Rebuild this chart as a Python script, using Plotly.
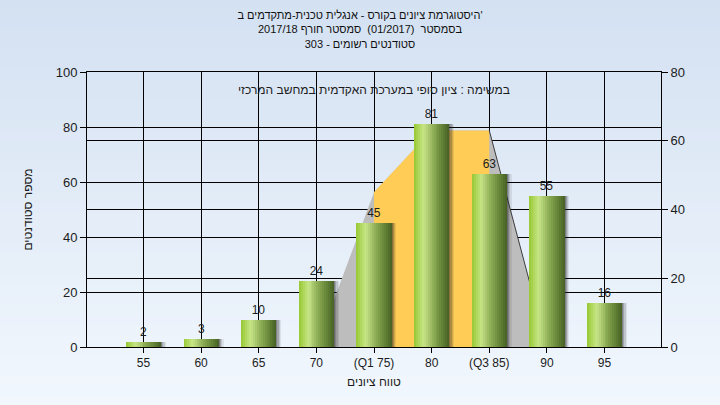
import plotly.graph_objects as go

# ---------------- data ----------------
categories = ["55", "60", "65", "70", "(Q1 75)", "80", "(Q3 85)", "90", "95"]
counts = [2, 3, 10, 24, 45, 81, 63, 55, 16]

# range (secondary axis) area series
range_cats = ["70", "(Q1 75)", "80", "(Q3 85)", "90"]
range_vals = [0, 45, 63, 63, 0]
q1_cat = "(Q1 75)"
q3_cat = "(Q3 85)"

title_lines = [
    "היסטוגרמת ציונים בקורס - אנגלית טכנית-מתקדמים ב'",
    "בסמסטר  (01/2017)  סמסטר חורף 2017/18",
    "סטודנטים רשומים - 303",
]
note_text = "במשימה : ציון סופי במערכת האקדמית במחשב המרכזי"
x_title = "טווח ציונים"
y_title = "מספר סטודנטים"

FONT = "Liberation Sans, Arial, DejaVu Sans, sans-serif"
TXT = "#1c1c1c"

# ---------------- layout geometry ----------------
W, H = 720, 405
ML, MR, MT, MB = 87, 59, 72, 58
PW, PH = W - ML - MR, H - MT - MB

idx = {c: i for i, c in enumerate(categories)}
xs = list(range(len(categories)))
ax = [idx[c] for c in range_cats]
i1, i3 = range_cats.index(q1_cat), range_cats.index(q3_cat)

fig = go.Figure()

# area series on the right-hand (0-80) axis, drawn under the bars
fig.add_trace(go.Scatter(x=ax, y=range_vals, yaxis="y", mode="lines",
                         fill="tozeroy", fillcolor="#BDBDBD",
                         line=dict(width=0, color="#BDBDBD"), hoverinfo="skip"))
fig.add_trace(go.Scatter(x=ax[i1:i3 + 1], y=range_vals[i1:i3 + 1], yaxis="y", mode="lines",
                         fill="tozeroy", fillcolor="#FFCC55",
                         line=dict(width=0, color="#FFCC55"), hoverinfo="skip"))
fig.add_trace(go.Scatter(x=ax[i3:], y=range_vals[i3:], yaxis="y", mode="lines",
                         line=dict(width=1, color="#3c3c3c"), hoverinfo="skip"))

# bars on left (0-100) axis with cylinder-like gradient made of strips
BW = 0.61
shadow_alpha = [0.55, 0.38, 0.22, 0.09]
sw = 0.022
for j, a in enumerate(shadow_alpha):
    fig.add_trace(go.Bar(x=xs, y=counts, yaxis="y2", width=sw,
                         offset=BW / 2 + j * sw - 0.004,
                         marker=dict(color=f"rgba(35,35,35,{a})", line=dict(width=0)),
                         hoverinfo="skip"))

stops = [(0.0, (150, 200, 50)), (0.27, (200, 229, 135)), (0.55, (140, 172, 85)),
         (0.8, (100, 132, 55)), (1.0, (70, 96, 36))]


def grad(t):
    for (t0, c0), (t1, c1) in zip(stops[:-1], stops[1:]):
        if t <= t1:
            f = (t - t0) / (t1 - t0)
            return "rgb(%d,%d,%d)" % tuple(round(a + (b - a) * f) for a, b in zip(c0, c1))
    return "rgb(%d,%d,%d)" % stops[-1][1]


N = 18
w = BW / N
for k in range(N):
    fig.add_trace(go.Bar(x=xs, y=counts, yaxis="y2", width=w * 1.08,
                         offset=-BW / 2 + k * w,
                         marker=dict(color=grad((k + 0.5) / N), line=dict(width=0)),
                         hoverinfo="skip"))

# value labels
fig.add_trace(go.Bar(x=xs, y=counts, yaxis="y2", width=BW, offset=-BW / 2,
                     marker=dict(color="rgba(0,0,0,0)", line=dict(width=0)),
                     text=[str(v) for v in counts], textposition="outside",
                     textfont=dict(size=12, color=TXT, family=FONT),
                     cliponaxis=False, hoverinfo="skip"))

# paper background gradient
top_c, bot_c = (212, 225, 242), (241, 247, 253)
y_lo, y_hi = -MB / PH - 0.01, 1 + MT / PH + 0.01
x_lo, x_hi = -ML / PW - 0.01, 1 + MR / PW + 0.01
NS = 40
shapes = []
for s in range(NS):
    f = s / (NS - 1)
    c = tuple(round(t + (b - t) * f) for t, b in zip(top_c, bot_c))
    ya = y_hi - (y_hi - y_lo) * s / NS
    yb = y_hi - (y_hi - y_lo) * (s + 1) / NS
    shapes.append(dict(type="rect", xref="paper", yref="paper", x0=x_lo, x1=x_hi,
                       y0=yb - 0.002, y1=ya + 0.002, layer="below",
                       fillcolor="rgb(%d,%d,%d)" % c, line=dict(width=0)))

axis_common = dict(showline=True, linecolor="black", linewidth=1, ticks="outside",
                   tickcolor="black", ticklen=6, showgrid=True, gridcolor="black",
                   gridwidth=1, zeroline=False, automargin=False)

fig.update_layout(
    width=W, height=H, autosize=False,
    margin=dict(l=ML, r=MR, t=MT, b=MB),
    paper_bgcolor="#E4EDF8", plot_bgcolor="#B4B4B4",
    barmode="overlay", bargap=0, showlegend=False,
    font=dict(family=FONT, color=TXT, size=12),
    shapes=shapes,
    title=dict(text="<br>".join(title_lines), x=0.5, xanchor="center",
               xref="container", yref="container", y=0.953, yanchor="top",
               font=dict(size=11, color="#111111", family=FONT)),
    xaxis=dict(range=[-0.98, 8.98], tickmode="array", tickvals=xs, ticktext=categories,
               mirror=True, tickfont=dict(size=12, color=TXT),
               title=dict(text=x_title, font=dict(size=12, color=TXT), standoff=8),
               **{**axis_common, "ticklen": 5}),
    yaxis=dict(range=[0, 80], dtick=20, side="right", tickfont=dict(size=13, color=TXT),
               **axis_common),
    yaxis2=dict(range=[0, 100], dtick=20, side="left", overlaying="y",
                tickfont=dict(size=13, color=TXT),
                title=dict(text=y_title, font=dict(size=12, color=TXT), standoff=20),
                **axis_common),
    annotations=[dict(text=note_text, xref="paper", yref="paper", x=0.5, y=0.935,
                      xanchor="center", yanchor="middle", showarrow=False,
                      font=dict(size=12, color=TXT, family=FONT))],
)

fig.write_html("out.html", config={"displayModeBar": False},
               post_script="document.body.style.margin='0px';")
